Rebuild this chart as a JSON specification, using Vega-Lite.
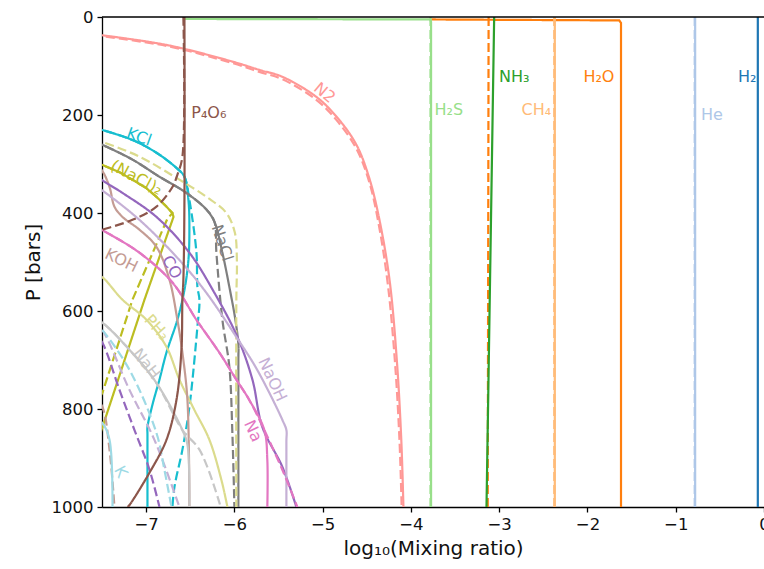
{
  "$schema": "https://vega.github.io/schema/vega-lite/v6.json",
  "autosize": "none",
  "width": 662,
  "height": 490,
  "padding": {"left": 102, "top": 17, "right": 0, "bottom": 62},
  "config": {
    "view": {"stroke": null},
    "font": "DejaVu Sans",
    "axis": {"domainColor": "#000", "domainWidth": 1.3, "tickColor": "#000", "tickWidth": 1.3, "tickSize": 5, "labelFontSize": 16.5, "labelColor": "#111", "titleFontSize": 20, "titleFontWeight": "normal", "titleColor": "#111", "grid": false, "labelPadding": 4, "labelFlush": false}
  },
  "datasets": {
    "lines": [
      {"s":"H2","d":"solid","x":-0.07,"p":0},{"s":"H2","d":"solid","x":-0.07,"p":1000},
      {"s":"He","d":"solid","x":-0.78,"p":0},{"s":"He","d":"solid","x":-0.78,"p":1000},
      {"s":"He","d":"dashed","x":-0.785,"p":0},{"s":"He","d":"dashed","x":-0.785,"p":1000},
      {"s":"H2O","d":"solid","x":-3.77,"p":5},{"s":"H2O","d":"solid","x":-1.64,"p":7},{"s":"H2O","d":"solid","x":-1.62,"p":12},{"s":"H2O","d":"solid","x":-1.62,"p":1000},
      {"s":"H2O","d":"dashed","x":-3.12,"p":0},{"s":"H2O","d":"dashed","x":-3.13,"p":1000},
      {"s":"CH4","d":"solid","x":-2.37,"p":0},{"s":"CH4","d":"solid","x":-2.37,"p":1000},
      {"s":"CH4","d":"dashed","x":-2.376,"p":0},{"s":"CH4","d":"dashed","x":-2.376,"p":1000},
      {"s":"NH3","d":"solid","x":-3.057,"p":0},{"s":"NH3","d":"solid","x":-3.144,"p":1000},
      {"s":"H2S","d":"solid","x":-6.57,"p":4},{"s":"H2S","d":"solid","x":-3.78,"p":5},{"s":"H2S","d":"solid","x":-3.772,"p":10},{"s":"H2S","d":"solid","x":-3.772,"p":1000},
      {"s":"H2S","d":"dashed","x":-3.778,"p":0},{"s":"H2S","d":"dashed","x":-3.778,"p":1000},
      {"s":"N2","d":"solid","x":-7.6,"p":35},{"s":"N2","d":"solid","x":-6.77,"p":57},{"s":"N2","d":"solid","x":-6.023,"p":91},{"s":"N2","d":"solid","x":-5.717,"p":108},{"s":"N2","d":"solid","x":-5.457,"p":122},{"s":"N2","d":"solid","x":-5.072,"p":163},{"s":"N2","d":"solid","x":-4.845,"p":203},{"s":"N2","d":"solid","x":-4.62,"p":260},{"s":"N2","d":"solid","x":-4.47,"p":330},{"s":"N2","d":"solid","x":-4.35,"p":420},{"s":"N2","d":"solid","x":-4.24,"p":540},{"s":"N2","d":"solid","x":-4.16,"p":700},{"s":"N2","d":"solid","x":-4.11,"p":860},{"s":"N2","d":"solid","x":-4.085,"p":1000},
      {"s":"N2","d":"dashed","x":-7.6,"p":37},{"s":"N2","d":"dashed","x":-6.77,"p":59},{"s":"N2","d":"dashed","x":-6.023,"p":94},{"s":"N2","d":"dashed","x":-5.717,"p":112},{"s":"N2","d":"dashed","x":-5.457,"p":127},{"s":"N2","d":"dashed","x":-5.072,"p":169},{"s":"N2","d":"dashed","x":-4.845,"p":210},{"s":"N2","d":"dashed","x":-4.62,"p":268},{"s":"N2","d":"dashed","x":-4.47,"p":338},{"s":"N2","d":"dashed","x":-4.36,"p":428},{"s":"N2","d":"dashed","x":-4.26,"p":548},{"s":"N2","d":"dashed","x":-4.18,"p":706},{"s":"N2","d":"dashed","x":-4.13,"p":862},{"s":"N2","d":"dashed","x":-4.105,"p":1000},
      {"s":"KCl","d":"solid","x":-7.6,"p":225},{"s":"KCl","d":"solid","x":-7.506,"p":230},{"s":"KCl","d":"solid","x":-7.155,"p":251},{"s":"KCl","d":"solid","x":-6.883,"p":277},{"s":"KCl","d":"solid","x":-6.657,"p":308},{"s":"KCl","d":"solid","x":-6.566,"p":326},{"s":"KCl","d":"solid","x":-6.521,"p":373},{"s":"KCl","d":"solid","x":-6.51,"p":434},{"s":"KCl","d":"solid","x":-6.521,"p":496},{"s":"KCl","d":"solid","x":-6.566,"p":557},{"s":"KCl","d":"solid","x":-6.646,"p":618},{"s":"KCl","d":"solid","x":-6.77,"p":685},{"s":"KCl","d":"solid","x":-6.849,"p":740},{"s":"KCl","d":"solid","x":-6.928,"p":791},{"s":"KCl","d":"solid","x":-6.985,"p":837},{"s":"KCl","d":"solid","x":-6.985,"p":852},{"s":"KCl","d":"solid","x":-6.985,"p":1000},
      {"s":"KCl","d":"dashed","x":-7.6,"p":225},{"s":"KCl","d":"dashed","x":-7.506,"p":230},{"s":"KCl","d":"dashed","x":-7.155,"p":251},{"s":"KCl","d":"dashed","x":-6.883,"p":277},{"s":"KCl","d":"dashed","x":-6.657,"p":308},{"s":"KCl","d":"dashed","x":-6.566,"p":326},{"s":"KCl","d":"dashed","x":-6.51,"p":373},{"s":"KCl","d":"dashed","x":-6.43,"p":481},{"s":"KCl","d":"dashed","x":-6.419,"p":551},{"s":"KCl","d":"dashed","x":-6.396,"p":577},{"s":"KCl","d":"dashed","x":-6.419,"p":632},{"s":"KCl","d":"dashed","x":-6.51,"p":796},{"s":"KCl","d":"dashed","x":-6.589,"p":883},{"s":"KCl","d":"dashed","x":-6.679,"p":959},{"s":"KCl","d":"dashed","x":-6.702,"p":1000},
      {"s":"NaCl","d":"solid","x":-7.6,"p":253},{"s":"NaCl","d":"solid","x":-7.495,"p":261},{"s":"NaCl","d":"solid","x":-7.155,"p":291},{"s":"NaCl","d":"solid","x":-6.849,"p":326},{"s":"NaCl","d":"solid","x":-6.544,"p":359},{"s":"NaCl","d":"solid","x":-6.317,"p":393},{"s":"NaCl","d":"solid","x":-6.226,"p":418},{"s":"NaCl","d":"solid","x":-6.136,"p":481},{"s":"NaCl","d":"solid","x":-6.057,"p":551},{"s":"NaCl","d":"solid","x":-5.989,"p":618},{"s":"NaCl","d":"solid","x":-5.955,"p":669},{"s":"NaCl","d":"solid","x":-5.955,"p":700},{"s":"NaCl","d":"solid","x":-5.955,"p":1000},
      {"s":"NaCl","d":"dashed","x":-7.6,"p":253},{"s":"NaCl","d":"dashed","x":-7.495,"p":261},{"s":"NaCl","d":"dashed","x":-7.155,"p":291},{"s":"NaCl","d":"dashed","x":-6.849,"p":326},{"s":"NaCl","d":"dashed","x":-6.544,"p":359},{"s":"NaCl","d":"dashed","x":-6.317,"p":393},{"s":"NaCl","d":"dashed","x":-6.226,"p":418},{"s":"NaCl","d":"dashed","x":-6.204,"p":481},{"s":"NaCl","d":"dashed","x":-6.136,"p":618},{"s":"NaCl","d":"dashed","x":-6.057,"p":714},{"s":"NaCl","d":"dashed","x":-6.023,"p":849},{"s":"NaCl","d":"dashed","x":-6.0,"p":1000},
      {"s":"PH3","d":"dashed","x":-7.6,"p":249},{"s":"PH3","d":"dashed","x":-7.495,"p":255},{"s":"PH3","d":"dashed","x":-7.076,"p":285},{"s":"PH3","d":"dashed","x":-6.623,"p":332},{"s":"PH3","d":"dashed","x":-6.317,"p":367},{"s":"PH3","d":"dashed","x":-6.091,"p":400},{"s":"PH3","d":"dashed","x":-5.995,"p":440},{"s":"PH3","d":"dashed","x":-5.972,"p":496},{"s":"PH3","d":"dashed","x":-5.978,"p":577},{"s":"PH3","d":"dashed","x":-5.978,"p":1000},
      {"s":"PH3","d":"solid","x":-7.6,"p":525},{"s":"PH3","d":"solid","x":-7.506,"p":530},{"s":"PH3","d":"solid","x":-7.268,"p":577},{"s":"PH3","d":"solid","x":-6.996,"p":618},{"s":"PH3","d":"solid","x":-6.77,"p":673},{"s":"PH3","d":"solid","x":-6.623,"p":740},{"s":"PH3","d":"solid","x":-6.453,"p":802},{"s":"PH3","d":"solid","x":-6.283,"p":863},{"s":"PH3","d":"solid","x":-6.147,"p":945},{"s":"PH3","d":"solid","x":-6.079,"p":1000},
      {"s":"NaCl2","d":"solid","x":-7.6,"p":296},{"s":"NaCl2","d":"solid","x":-7.495,"p":302},{"s":"NaCl2","d":"solid","x":-7.3,"p":317},{"s":"NaCl2","d":"solid","x":-7.155,"p":332},{"s":"NaCl2","d":"solid","x":-7.0,"p":349},{"s":"NaCl2","d":"solid","x":-6.883,"p":367},{"s":"NaCl2","d":"solid","x":-6.78,"p":385},{"s":"NaCl2","d":"solid","x":-6.702,"p":400},{"s":"NaCl2","d":"solid","x":-6.69,"p":408},{"s":"NaCl2","d":"solid","x":-7.019,"p":577},{"s":"NaCl2","d":"solid","x":-7.495,"p":837},{"s":"NaCl2","d":"solid","x":-7.6,"p":893},
      {"s":"NaCl2","d":"dashed","x":-7.6,"p":296},{"s":"NaCl2","d":"dashed","x":-7.495,"p":302},{"s":"NaCl2","d":"dashed","x":-7.3,"p":317},{"s":"NaCl2","d":"dashed","x":-7.155,"p":332},{"s":"NaCl2","d":"dashed","x":-7.0,"p":349},{"s":"NaCl2","d":"dashed","x":-6.883,"p":367},{"s":"NaCl2","d":"dashed","x":-6.78,"p":385},{"s":"NaCl2","d":"dashed","x":-6.702,"p":400},{"s":"NaCl2","d":"dashed","x":-6.76,"p":412},{"s":"NaCl2","d":"dashed","x":-7.155,"p":577},{"s":"NaCl2","d":"dashed","x":-7.495,"p":767},{"s":"NaCl2","d":"dashed","x":-7.6,"p":795},
      {"s":"KOH","d":"solid","x":-7.6,"p":300},{"s":"KOH","d":"solid","x":-7.506,"p":312},{"s":"KOH","d":"solid","x":-7.415,"p":347},{"s":"KOH","d":"solid","x":-7.359,"p":387},{"s":"KOH","d":"solid","x":-7.268,"p":408},{"s":"KOH","d":"solid","x":-7.076,"p":434},{"s":"KOH","d":"solid","x":-6.883,"p":469},{"s":"KOH","d":"solid","x":-6.736,"p":536},{"s":"KOH","d":"solid","x":-6.646,"p":618},{"s":"KOH","d":"solid","x":-6.589,"p":685},{"s":"KOH","d":"solid","x":-6.532,"p":782},{"s":"KOH","d":"solid","x":-6.51,"p":1000},
      {"s":"KOH","d":"dashed","x":-7.6,"p":770},{"s":"KOH","d":"dashed","x":-7.495,"p":796},{"s":"KOH","d":"dashed","x":-7.415,"p":883},{"s":"KOH","d":"dashed","x":-7.359,"p":1000},
      {"s":"CO","d":"solid","x":-7.6,"p":318},{"s":"CO","d":"solid","x":-7.506,"p":332},{"s":"CO","d":"solid","x":-7.268,"p":359},{"s":"CO","d":"solid","x":-6.883,"p":408},{"s":"CO","d":"solid","x":-6.51,"p":481},{"s":"CO","d":"solid","x":-6.226,"p":563},{"s":"CO","d":"solid","x":-5.966,"p":653},{"s":"CO","d":"solid","x":-5.796,"p":740},{"s":"CO","d":"solid","x":-5.683,"p":837},{"s":"CO","d":"solid","x":-5.457,"p":918},{"s":"CO","d":"solid","x":-5.298,"p":1000},
      {"s":"CO","d":"dashed","x":-7.6,"p":640},{"s":"CO","d":"dashed","x":-7.495,"p":665},{"s":"CO","d":"dashed","x":-7.302,"p":761},{"s":"CO","d":"dashed","x":-7.132,"p":843},{"s":"CO","d":"dashed","x":-6.962,"p":924},{"s":"CO","d":"dashed","x":-6.849,"p":1000},
      {"s":"NaOH","d":"solid","x":-7.6,"p":343},{"s":"NaOH","d":"solid","x":-7.506,"p":353},{"s":"NaOH","d":"solid","x":-7.076,"p":414},{"s":"NaOH","d":"solid","x":-6.623,"p":496},{"s":"NaOH","d":"solid","x":-6.317,"p":563},{"s":"NaOH","d":"solid","x":-5.978,"p":653},{"s":"NaOH","d":"solid","x":-5.774,"p":710},{"s":"NaOH","d":"solid","x":-5.604,"p":767},{"s":"NaOH","d":"solid","x":-5.457,"p":822},{"s":"NaOH","d":"solid","x":-5.411,"p":843},{"s":"NaOH","d":"solid","x":-5.411,"p":866},{"s":"NaOH","d":"solid","x":-5.411,"p":1000},
      {"s":"NaOH","d":"dashed","x":-7.6,"p":620},{"s":"NaOH","d":"dashed","x":-7.495,"p":639},{"s":"NaOH","d":"dashed","x":-7.189,"p":761},{"s":"NaOH","d":"dashed","x":-6.906,"p":863},{"s":"NaOH","d":"dashed","x":-6.623,"p":1000},
      {"s":"Na","d":"solid","x":-7.6,"p":425},{"s":"Na","d":"solid","x":-7.506,"p":434},{"s":"Na","d":"solid","x":-7.076,"p":481},{"s":"Na","d":"solid","x":-6.702,"p":542},{"s":"Na","d":"solid","x":-6.43,"p":618},{"s":"Na","d":"solid","x":-6.17,"p":685},{"s":"Na","d":"solid","x":-5.978,"p":740},{"s":"Na","d":"solid","x":-5.83,"p":782},{"s":"Na","d":"solid","x":-5.661,"p":843},{"s":"Na","d":"solid","x":-5.627,"p":904},{"s":"Na","d":"solid","x":-5.627,"p":1000},
      {"s":"Na","d":"dashed","x":-7.6,"p":425},{"s":"Na","d":"dashed","x":-7.506,"p":434},{"s":"Na","d":"dashed","x":-7.076,"p":481},{"s":"Na","d":"dashed","x":-6.702,"p":542},{"s":"Na","d":"dashed","x":-6.43,"p":618},{"s":"Na","d":"dashed","x":-6.17,"p":685},{"s":"Na","d":"dashed","x":-5.978,"p":740},{"s":"Na","d":"dashed","x":-5.83,"p":782},{"s":"Na","d":"dashed","x":-5.661,"p":843},{"s":"Na","d":"dashed","x":-5.457,"p":924},{"s":"Na","d":"dashed","x":-5.287,"p":1000},
      {"s":"NaH","d":"solid","x":-7.6,"p":614},{"s":"NaH","d":"solid","x":-7.495,"p":624},{"s":"NaH","d":"solid","x":-7.189,"p":679},{"s":"NaH","d":"solid","x":-6.883,"p":747},{"s":"NaH","d":"solid","x":-6.589,"p":843},{"s":"NaH","d":"solid","x":-6.532,"p":873},{"s":"NaH","d":"solid","x":-6.51,"p":1000},
      {"s":"NaH","d":"dashed","x":-7.6,"p":614},{"s":"NaH","d":"dashed","x":-7.495,"p":624},{"s":"NaH","d":"dashed","x":-7.189,"p":679},{"s":"NaH","d":"dashed","x":-6.883,"p":747},{"s":"NaH","d":"dashed","x":-6.589,"p":843},{"s":"NaH","d":"dashed","x":-6.396,"p":883},{"s":"NaH","d":"dashed","x":-6.17,"p":991},{"s":"NaH","d":"dashed","x":-6.158,"p":1000},
      {"s":"K","d":"solid","x":-7.6,"p":815},{"s":"K","d":"solid","x":-7.495,"p":829},{"s":"K","d":"solid","x":-7.415,"p":863},{"s":"K","d":"solid","x":-7.381,"p":1000},
      {"s":"K","d":"dashed","x":-7.6,"p":620},{"s":"K","d":"dashed","x":-7.495,"p":639},{"s":"K","d":"dashed","x":-7.189,"p":720},{"s":"K","d":"dashed","x":-6.883,"p":849},{"s":"K","d":"dashed","x":-6.793,"p":924},{"s":"K","d":"dashed","x":-6.713,"p":1000},
      {"s":"P4O6","d":"solid","x":-6.566,"p":0},{"s":"P4O6","d":"solid","x":-6.566,"p":373},{"s":"P4O6","d":"solid","x":-6.578,"p":536},{"s":"P4O6","d":"solid","x":-6.589,"p":577},{"s":"P4O6","d":"solid","x":-6.6,"p":679},{"s":"P4O6","d":"solid","x":-6.657,"p":782},{"s":"P4O6","d":"solid","x":-6.77,"p":863},{"s":"P4O6","d":"solid","x":-6.962,"p":930},{"s":"P4O6","d":"solid","x":-7.189,"p":996},{"s":"P4O6","d":"solid","x":-7.21,"p":1000},
      {"s":"P4O6","d":"dashed","x":-6.578,"p":0},{"s":"P4O6","d":"dashed","x":-6.589,"p":285},{"s":"P4O6","d":"dashed","x":-6.646,"p":322},{"s":"P4O6","d":"dashed","x":-6.702,"p":347},{"s":"P4O6","d":"dashed","x":-6.883,"p":387},{"s":"P4O6","d":"dashed","x":-7.155,"p":414},{"s":"P4O6","d":"dashed","x":-7.495,"p":434},{"s":"P4O6","d":"dashed","x":-7.6,"p":440}
    ],
    "labels": [
      {"s":"H2","t":"H₂","x":-0.19,"p":122,"a":0},
      {"s":"He","t":"He","x":-0.59,"p":200,"a":0},
      {"s":"H2O","t":"H₂O","x":-1.87,"p":122,"a":0},
      {"s":"CH4","t":"CH₄","x":-2.58,"p":190,"a":0},
      {"s":"NH3","t":"NH₃","x":-2.83,"p":122,"a":0},
      {"s":"H2S","t":"H₂S","x":-3.57,"p":190,"a":0},
      {"s":"N2","t":"N2","x":-4.98,"p":155,"a":40},
      {"s":"P4O6","t":"P₄O₆","x":-6.29,"p":196,"a":0},
      {"s":"KCl","t":"KCl","x":-7.08,"p":245,"a":20},
      {"s":"NaCl2","t":"(NaCl)₂","x":-7.11,"p":328,"a":28},
      {"s":"NaCl","t":"NaCl","x":-6.14,"p":461,"a":72},
      {"s":"KOH","t":"KOH","x":-7.28,"p":497,"a":26},
      {"s":"CO","t":"CO","x":-6.71,"p":511,"a":60},
      {"s":"PH3","t":"PH₃","x":-6.88,"p":634,"a":48},
      {"s":"NaH","t":"NaH","x":-7.0,"p":708,"a":52},
      {"s":"NaOH","t":"NaOH","x":-5.57,"p":740,"a":65},
      {"s":"Na","t":"Na","x":-5.79,"p":845,"a":65},
      {"s":"K","t":"K","x":-7.29,"p":928,"a":62}
    ]
  },
  "encoding": {
    "x": {"field": "x", "type": "quantitative", "scale": {"domain": [-7.5, 0], "nice": false, "zero": false},
      "axis": {"values": [-7,-6,-5,-4,-3,-2,-1,0], "title": "log₁₀(Mixing ratio)", "titlePadding": 6}},
    "y": {"field": "p", "type": "quantitative", "scale": {"domain": [0, 1000], "reverse": true, "nice": false},
      "axis": {"values": [0,200,400,600,800,1000], "format": "d", "title": "P [bars]", "titlePadding": 8}},
    "color": {"field": "s", "type": "nominal", "legend": null,
      "scale": {"domain": ["H2","He","H2O","CH4","NH3","H2S","N2","CO","NaOH","P4O6","KOH","Na","NaCl","NaH","NaCl2","PH3","KCl","K"],
        "range": ["#1f77b4","#aec7e8","#ff7f0e","#ffbb78","#2ca02c","#98df8a","#ff9896","#9467bd","#c5b0d5","#8c564b","#c49c94","#e377c2","#7f7f7f","#c7c7c7","#bcbd22","#dbdb8d","#17becf","#9edae5"]}},
    "strokeDash": {"field": "d", "type": "nominal", "legend": null, "scale": {"domain": ["solid","dashed"], "range": [[1,0],[9,4]]}}
  },
  "layer": [
    {
      "data": {"name": "lines"},
      "transform": [{"filter": {"field": "s", "oneOf": ["H2","He","H2O","CH4","NH3","H2S","NaCl2"]}}],
      "mark": {"type": "line", "clip": true, "strokeWidth": 2.2},
      "encoding": {"order": {"field": "p", "type": "quantitative"}}
    },
    {
      "data": {"name": "lines"},
      "transform": [{"filter": {"not": {"field": "s", "oneOf": ["H2","He","H2O","CH4","NH3","H2S","NaCl2"]}}}],
      "mark": {"type": "line", "clip": true, "strokeWidth": 2.2, "interpolate": "catmull-rom"},
      "encoding": {"order": {"field": "p", "type": "quantitative"}}
    },
    {
      "data": {"name": "labels"},
      "mark": {"type": "text", "fontSize": 16, "font": "DejaVu Sans", "align": "center", "baseline": "middle"},
      "encoding": {
        "text": {"field": "t"},
        "angle": {"field": "a", "type": "quantitative", "scale": null},
        "strokeDash": null
      }
    },
    {
      "data": {"values": [{"p": 0}]},
      "mark": {"type": "rule", "strokeWidth": 1.5},
      "encoding": {"y": {"field": "p", "type": "quantitative"}, "x": null, "color": {"value": "#000"}, "strokeDash": null}
    }
  ]
}
